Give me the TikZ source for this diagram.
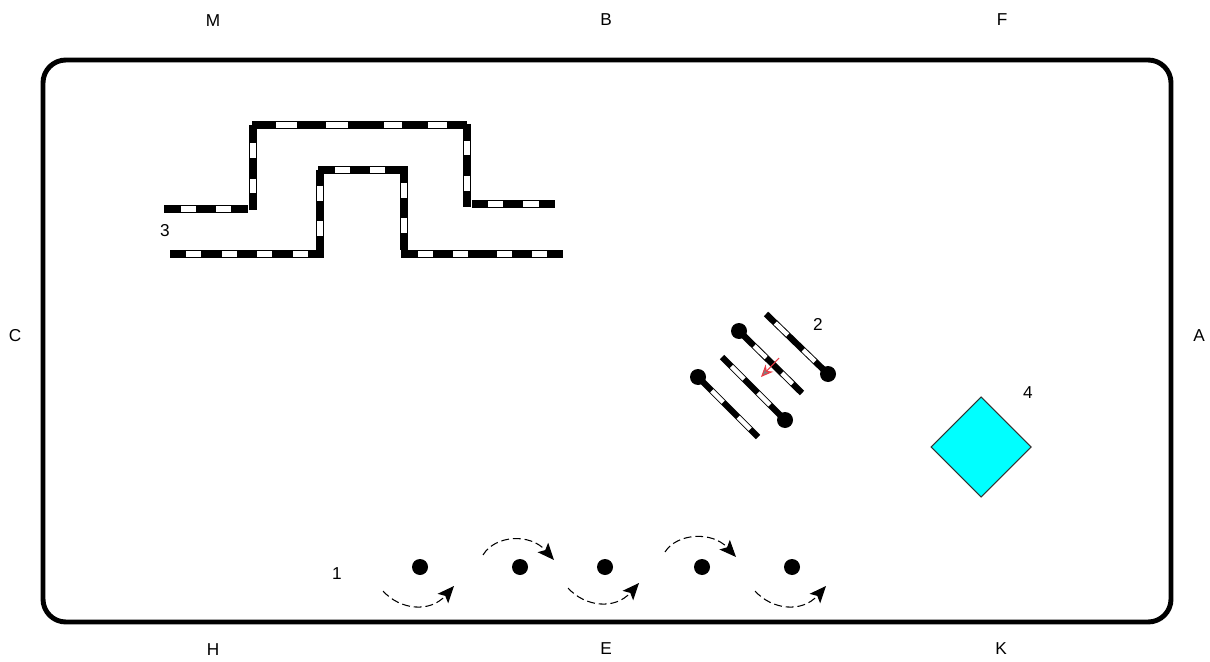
\documentclass[tikz,border=0pt]{standalone}
\usepackage{fontspec}
\setmainfont{Liberation Sans}
\usetikzlibrary{arrows.meta,calc}
\definecolor{aqua}{RGB}{0,255,255}
\definecolor{arrowred}{RGB}{235,60,70}
\tikzset{
  track/.style={line width=4.1pt, black},
  patch/.style={line width=2.9pt, white},
  rail/.style={line width=3.6pt, black},
  railpatch/.style={line width=2.5pt, white},
  move/.style={dash pattern=on 4.5pt off 2.2pt, line width=0.6pt, -{Stealth[length=9.5pt,width=8pt,inset=2pt]}},
  lbl/.style={inner sep=0pt, font=\fontsize{9.8pt}{11pt}\selectfont}
}
\begin{document}
\begin{tikzpicture}[x=0.02cm, y=-0.02cm]
  \useasboundingbox (0,0) rectangle (1210,662);
  % Boundary
  \draw[line width=2.8pt, rounded corners=13pt] (43,60) rectangle (1171,622);
  % Side letters
  \node[lbl] (m) at (213,21) {M};
  \node[lbl] (b) at (606,20) {B};
  \node[lbl] (f) at (1002,20) {F};
  \node[lbl] (c) at (15,336) {C};
  \node[lbl] (a) at (1199,336) {A};
  \node[lbl] (h) at (213,650) {H};
  \node[lbl] (e) at (606,649) {E};
  \node[lbl] (k) at (1001,649) {K};
  % Group numbers
  \node[lbl] (n1) at (337,574) {1};
  \node[lbl] (n2) at (818,324) {2};
  \node[lbl] (n3) at (165,231) {3};
  \node[lbl] (n4) at (1028,393) {4};
  % Outer track
  \draw[track] (164,209) -- (248,209);
  \foreach \xa/\xb in {181/196, 216/231} \draw[patch] (\xa,209) -- (\xb,209);
  \draw[track] (253,210) -- (253,125);
  \foreach \ya/\yb in {143/158, 179/193} \draw[patch] (253,\ya) -- (253,\yb);
  \draw[track] (252,125) -- (467,125);
  \foreach \xa/\xb in {276/297, 326/348, 384/402, 428/447} \draw[patch] (\xa,125) -- (\xb,125);
  \draw[track] (467,124) -- (467,207);
  \foreach \ya/\yb in {141/155, 176/191} \draw[patch] (467,\ya) -- (467,\yb);
  \draw[track] (472,204) -- (555,204);
  \foreach \xa/\xb in {488/503, 523/539} \draw[patch] (\xa,204) -- (\xb,204);
  % Inner track
  \draw[track] (170,254) -- (324,254);
  \foreach \xa/\xb in {186/201, 222/237, 257/272, 293/308} \draw[patch] (\xa,254) -- (\xb,254);
  \draw[track] (320,254) -- (320,170);
  \foreach \ya/\yb in {186/201, 221/236} \draw[patch] (320,\ya) -- (320,\yb);
  \draw[track] (318,170) -- (408,170);
  \foreach \xa/\xb in {335/350, 370/385} \draw[patch] (\xa,170) -- (\xb,170);
  \draw[track] (404,172) -- (404,250);
  \foreach \ya/\yb in {183/198, 218/233} \draw[patch] (404,\ya) -- (404,\yb);
  \draw[track] (401,254) -- (563,254);
  \foreach \xa/\xb in {418/433, 453/468, 497/512, 532/547} \draw[patch] (\xa,254) -- (\xb,254);
  % Diagonal rails
  \coordinate (ra) at (766,314);
  \coordinate (rb) at (828,374);
  \draw[rail] (ra) -- (rb);
  \fill (rb) circle (8);
  \foreach \pa/\pb in {0.15/0.35, 0.60/0.79} \draw[railpatch] ($(ra)!\pa!(rb)$) -- ($(ra)!\pb!(rb)$);
  \coordinate (sa) at (739,331);
  \coordinate (sb) at (802,393);
  \draw[rail] (sa) -- (sb);
  \fill (sa) circle (8);
  \foreach \pa/\pb in {0.24/0.43, 0.68/0.85} \draw[railpatch] ($(sa)!\pa!(sb)$) -- ($(sa)!\pb!(sb)$);
  \coordinate (ta) at (722,357);
  \coordinate (tb) at (785,420);
  \draw[rail] (ta) -- (tb);
  \fill (tb) circle (8);
  \foreach \pa/\pb in {0.15/0.35, 0.57/0.76} \draw[railpatch] ($(ta)!\pa!(tb)$) -- ($(ta)!\pb!(tb)$);
  \coordinate (ua) at (698,377);
  \coordinate (ub) at (758,437);
  \draw[rail] (ua) -- (ub);
  \fill (ua) circle (8);
  \foreach \pa/\pb in {0.23/0.42, 0.67/0.87} \draw[railpatch] ($(ua)!\pa!(ub)$) -- ($(ua)!\pb!(ub)$);
  % Small arrow
  \draw[arrowred, line width=0.6pt, -{Stealth[length=7pt,width=6pt,fill=gray]}] (779,358) -- (761,377);
  % Square
  \filldraw[fill=aqua, draw=black!80, line width=0.6pt] (981,397) -- (1031,447) -- (981,497) -- (931,447) -- cycle;
  % Dots
  \foreach \px in {420,520,605,702,792} \fill (\px,567) circle (8);
  % Dashed moves
  \draw[move] (383,591) .. controls (400,610) and (430,613) .. (454,586);
  \draw[move] (483,555) .. controls (495,535) and (530,533) .. (554,560);
  \draw[move] (568,588) .. controls (585,607) and (615,610) .. (639,583);
  \draw[move] (665,552) .. controls (677,533) and (712,531) .. (736,557);
  \draw[move] (755,591) .. controls (772,610) and (802,613) .. (826,586);
\end{tikzpicture}
\end{document}
